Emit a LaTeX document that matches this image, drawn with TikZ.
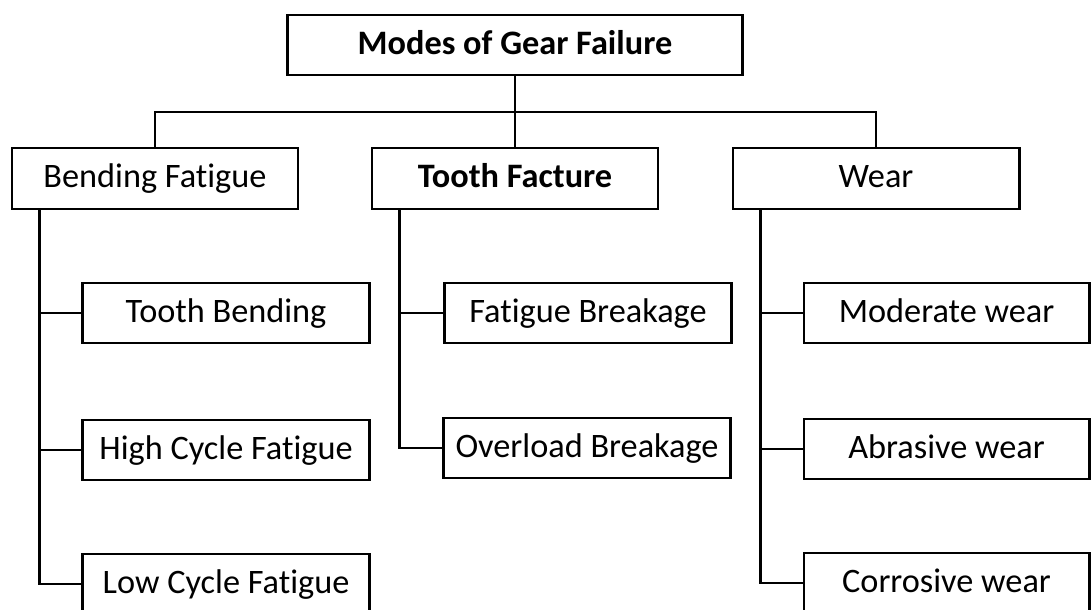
\documentclass[tikz,border=0pt]{standalone}
\usepackage{fontspec}
\setmainfont{Carlito}[RawFeature={-liga;-clig;-dlig}]
\usetikzlibrary{positioning, calc}

\tikzset{
  box/.style={draw=black, line width=0.8pt, rectangle, inner sep=0pt,
    minimum width=2.86cm, minimum height=0.6cm, align=center,
    text height=1.55ex, text depth=0.45ex,
    font=\fontsize{9.75}{11}\selectfont},
  rootbox/.style={box, minimum width=4.54cm, font=\fontsize{9.75}{11}\selectfont\bfseries},
  link/.style={draw=black, line width=0.8pt}
}

\begin{document}
\begin{tikzpicture}[x=0.01cm, y=-0.01cm]
      \useasboundingbox (0, 0) rectangle (1091, 610);
      \clip (0, 0) rectangle (1091, 610);

      \node[rootbox] (root) at (515, 45) {Modes of Gear Failure};

      \node[box, minimum height=0.61cm] (bend) at (155, 178.5) {Bending Fatigue};
      \node[box, minimum height=0.61cm, font=\fontsize{9.75}{11}\selectfont\bfseries] (tooth) at (515, 178.5) {Tooth Facture};
      \node[box, minimum height=0.61cm] (wear) at (876, 178.5) {Wear};

      \node[box, minimum width=2.87cm] (tb) at (226, 313) {Tooth Bending};
      \node[box, minimum width=2.87cm] (hcf) at (226, 450) {High Cycle Fatigue};
      \node[box, minimum width=2.87cm] (lcf) at (226, 584) {Low Cycle Fatigue};

      \node[box, minimum width=2.87cm] (fb) at (588, 313) {Fatigue Breakage};
      \node[box, minimum width=2.87cm] (ob) at (587, 448) {Overload Breakage};

      \node[box, minimum width=2.85cm] (mw) at (946.5, 313) {Moderate wear};
      \node[box, minimum width=2.85cm] (aw) at (946.5, 449) {Abrasive wear};
      \node[box, minimum width=2.85cm] (cw) at (946.5, 583) {Corrosive wear};

      % root to first level
      \coordinate (bus) at (515, 112);
      \draw[link] (root.south) -- (bus);
      \draw[link] (bend.north) |- (bus) -| (wear.north);
      \draw[link] (bus) -- (tooth.north);

      % spines to the leaves
      \foreach \p/\c in {bend/tb, bend/hcf, bend/lcf, tooth/fb, tooth/ob, wear/mw, wear/aw, wear/cw}
        \draw[link] ($(\p.south west)+(29, 0)$) |- (\c.west);

    \end{tikzpicture}
\end{document}
